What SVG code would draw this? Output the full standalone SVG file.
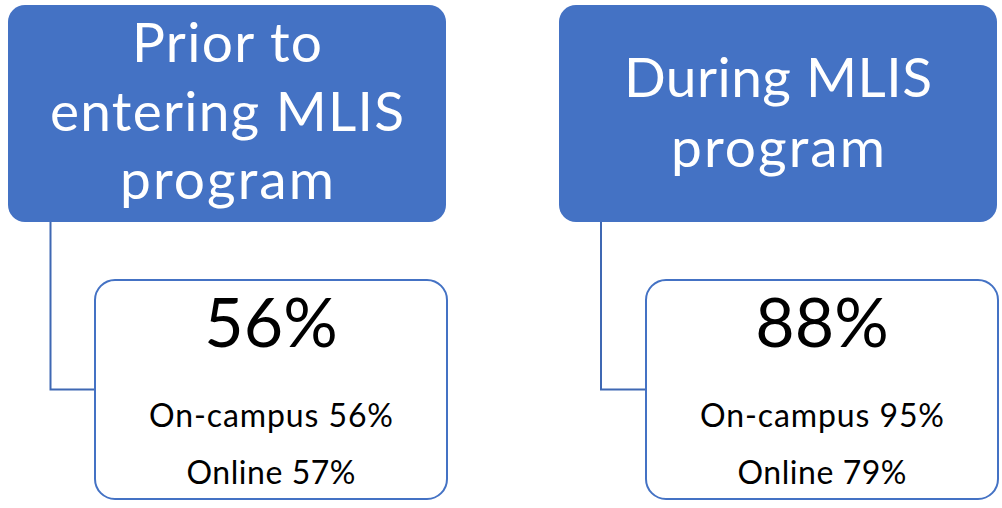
<svg xmlns="http://www.w3.org/2000/svg" width="1002" height="508" viewBox="0 0 1002 508">
<style>
.head rect{fill:#4472C4;}
.head text{fill:#FFFFFF;font-family:Lato,"Liberation Sans",sans-serif;font-size:55px;text-anchor:middle;}
.leaf rect{fill:#FFFFFF;stroke:#4472C4;stroke-width:2;}
.leaf text{fill:#000000;font-family:Lato,"Liberation Sans",sans-serif;text-anchor:middle;}
.big{font-size:68px;}
.small{font-size:32px;}
.conn path{fill:none;stroke:#3F68B3;stroke-width:2;}
</style>
<rect width="1002" height="508" fill="#FFFFFF"/>
<g class="conn" id="connectors">
<path d="M50.5 222 V389.5 H94"/>
<path d="M601 222 V389.5 H645"/>
</g>
<g class="head" id="prior">
<rect x="8" y="5" width="438" height="217" rx="17"/>
<text x="227" y="62" textLength="190">Prior to</text>
<text x="227" y="131" textLength="354">entering MLIS</text>
<text x="227" y="199" textLength="214">program</text>
</g>
<g class="head" id="during">
<rect x="559" y="5" width="438" height="217" rx="17"/>
<text x="778" y="97" textLength="308">During MLIS</text>
<text x="778" y="167" textLength="214">program</text>
</g>
<g class="leaf" id="leaf1">
<rect x="95" y="280" width="352" height="219" rx="20"/>
<text class="big" x="271" y="347">56%</text>
<text class="small" x="271" y="427" textLength="244">On-campus 56%</text>
<text class="small" x="271" y="484" textLength="169">Online 57%</text>
</g>
<g class="leaf" id="leaf2">
<rect x="646" y="280" width="352" height="219" rx="20"/>
<text class="big" x="822" y="347">88%</text>
<text class="small" x="822" y="427" textLength="244">On-campus 95%</text>
<text class="small" x="822" y="484" textLength="169">Online 79%</text>
</g>
</svg>
